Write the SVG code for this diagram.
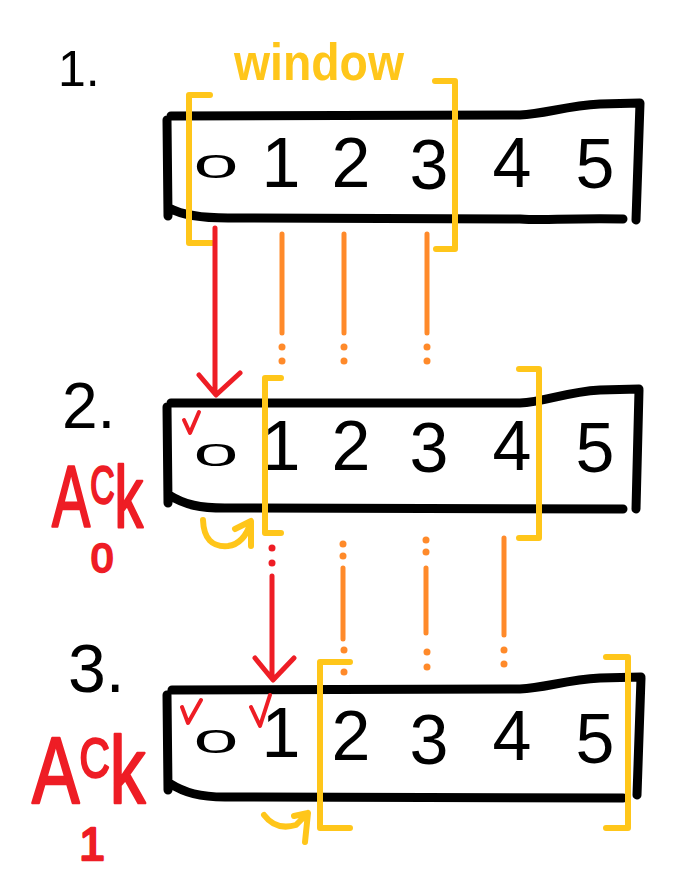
<svg xmlns="http://www.w3.org/2000/svg" width="676" height="893" viewBox="0 0 676 893">
<style>
.box{fill:none;stroke:#000;stroke-width:9;stroke-linecap:round;stroke-linejoin:round}
.br{fill:none;stroke:#FFC61A;stroke-width:6;stroke-linecap:round;stroke-linejoin:round}
.yc{fill:none;stroke:#FFC61A;stroke-width:6;stroke-linecap:round;stroke-linejoin:round}
.red{fill:none;stroke:#EE1D25;stroke-width:5;stroke-linecap:round;stroke-linejoin:round}
.chk{fill:none;stroke:#EE1D25;stroke-width:4;stroke-linecap:round;stroke-linejoin:round}
.org{fill:none;stroke:#FF8A2A;stroke-width:5;stroke-linecap:round}
.od{fill:#FF8A2A}
.rd{fill:#EE1D25}
.dg{font-family:"Liberation Sans",Arial,sans-serif;font-size:70px;fill:#000;text-anchor:middle}
.zr{font-family:"Liberation Sans",Arial,sans-serif;font-size:50px;fill:#000;text-anchor:middle}
.lbl{font-family:"Liberation Sans",Arial,sans-serif;fill:#000}
.ack{font-family:"Liberation Sans",Arial,sans-serif;fill:#EE1D25;stroke:#EE1D25;stroke-width:2.5;stroke-linejoin:round}
</style>
<rect width="676" height="893" fill="#fff"/>

<g id="label-1"><text class="lbl" x="58" y="86" font-size="50">1.</text></g>
<g id="label-window"><text x="234" y="80" font-size="52" font-weight="bold" fill="#FFC61A" font-family="Liberation Sans, Arial, sans-serif" textLength="170" lengthAdjust="spacingAndGlyphs">window</text></g>

<g id="row1">
<path class="box" d="M171,116 L520,115 C545,114 565,106 600,104 L640,103 M640,103 L636,220 M169,208 C182,215 200,218 228,218 L520,219 C545,221 560,218 623,219 M167,120 L168,216"/>
<text class="zr" transform="translate(216,178) scale(1.6,0.66)">0</text>
<text class="dg" x="281" y="187">1</text>
<text class="dg" x="351" y="187">2</text>
<text class="dg" x="429" y="189">3</text>
<text class="dg" x="512" y="187">4</text>
<text class="dg" x="595" y="188">5</text>
<path class="br" d="M210,95 L189,95 L189,243 L212,243 M435,81 L455,81 L455,249 L436,249"/>
</g>

<g id="label-2"><text class="lbl" x="62" y="428" font-size="64">2.</text></g>
<g id="ack-0">
<text class="ack" transform="translate(52,527) scale(0.65,1)" font-size="88">A<tspan font-size="52" dy="-24">C</tspan><tspan dy="24">k</tspan></text>
<text class="ack" x="102" y="572" font-size="40" text-anchor="middle">0</text>
</g>
<g id="row2">
<path class="box" d="M171,403 L520,403 C545,402 565,392 600,390 L639,389 M639,390 L636,509 M169,495 C185,505 200,508 225,508 L623,509 M167,407 L168,503"/>
<path class="chk" d="M184,420 L190,433 L199,412"/>
<text class="zr" transform="translate(216,466) scale(1.6,0.62)">0</text>
<text class="dg" x="281" y="470">1</text>
<text class="dg" x="351" y="470">2</text>
<text class="dg" x="429" y="472">3</text>
<text class="dg" x="512" y="470">4</text>
<text class="dg" x="595" y="472">5</text>
<path class="br" d="M281,378 L265,378 L265,533 L281,533 M519,369 L539,369 L539,538 L519,538"/>
<path class="yc" d="M203,520 Q204,548 228,546 Q244,544 251,522 M235,529 L251,521 L251,546"/>
</g>

<g id="label-3"><text class="lbl" x="68" y="692" font-size="68">3.</text></g>
<g id="ack-1">
<text class="ack" transform="translate(32,803) scale(0.75,1)" font-size="95">A<tspan font-size="56" dy="-26">C</tspan><tspan dy="26">k</tspan></text>
<text class="ack" x="92" y="860" font-size="46" text-anchor="middle">1</text>
</g>
<g id="row3">
<path class="box" d="M172,690 L520,689 C545,688 565,680 600,678 L641,677 M641,678 L637,795 M169,783 C185,793 200,797 225,797 L623,798 M167,695 L168,790"/>
<path class="chk" d="M182,707 L188,723 L201,700 M251,707 L260,726 L270,695"/>
<text class="zr" transform="translate(216,753) scale(1.6,0.66)">0</text>
<text class="dg" x="281" y="757">1</text>
<text class="dg" x="351" y="760">2</text>
<text class="dg" x="429" y="764">3</text>
<text class="dg" x="512" y="760">4</text>
<text class="dg" x="595" y="763">5</text>
<path class="br" d="M350,662 L320,662 L320,828 L350,828 M606,657 L628,657 L628,828 L606,828"/>
<path class="yc" d="M264,815 Q276,831 296,825 L308,813 L305,842 M294,816 L308,813"/>
</g>

<g id="connectors">
<path class="red" d="M215,228 L215,392 M199,375 L216,395 L240,373"/>
<path class="org" d="M282,234 L282,333 M344,234 L344,333 M427,234 L427,333"/>
<circle class="od" cx="282" cy="347" r="3.5"/><circle class="od" cx="282" cy="361" r="3.5"/>
<circle class="od" cx="344" cy="347" r="3.5"/><circle class="od" cx="344" cy="361" r="3.5"/>
<circle class="od" cx="427" cy="347" r="3.5"/><circle class="od" cx="427" cy="361" r="3.5"/>

<circle class="rd" cx="272" cy="548" r="3.5"/><circle class="rd" cx="272" cy="563" r="3.5"/>
<path class="red" d="M272,576 L272,678 M255,658 L273,680 L294,658"/>
<circle class="od" cx="343" cy="544" r="3.5"/><circle class="od" cx="343" cy="556" r="3.5"/>
<path class="org" d="M343,568 L343,639 M426,568 L426,633 M504,538 L504,635"/>
<circle class="od" cx="344" cy="650" r="3.5"/><circle class="od" cx="344" cy="672" r="3.5"/>
<circle class="od" cx="426" cy="540" r="3.5"/><circle class="od" cx="426" cy="552" r="3.5"/>
<circle class="od" cx="427" cy="652" r="3.5"/><circle class="od" cx="427" cy="667" r="3.5"/>
<circle class="od" cx="504" cy="650" r="3.5"/><circle class="od" cx="504" cy="664" r="3.5"/>
</g>
</svg>
